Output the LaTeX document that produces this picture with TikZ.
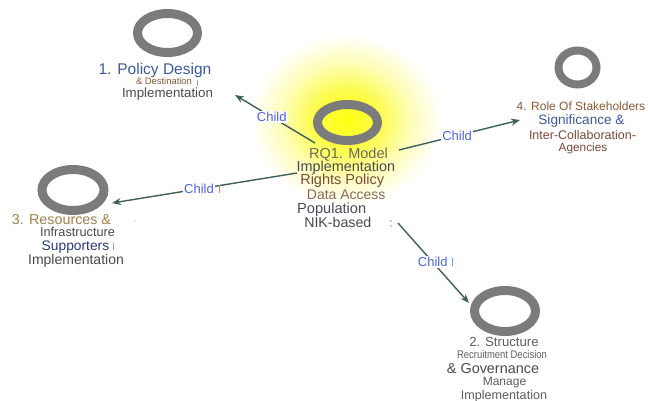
\documentclass[tikz,border=0pt]{standalone}
\usepackage{fontspec}
\setmainfont{Liberation Sans}
\usetikzlibrary{arrows.meta,shapes.geometric}

\definecolor{ringgray}{HTML}{7B7B7B}
\definecolor{linkcol}{HTML}{3F5F5C}
\definecolor{childblue}{HTML}{4F63E0}
\definecolor{markblue}{HTML}{7F9FE0}
\definecolor{glowcore}{HTML}{FFFF10}
\definecolor{glowmid}{HTML}{FCFC50}
\definecolor{glowpale}{HTML}{FEFDB8}
\definecolor{tblue}{HTML}{3A5A9C}
\definecolor{tbrown}{HTML}{8A5A3A}
\definecolor{ttan}{HTML}{A08050}
\definecolor{tdark}{HTML}{4A4A4A}
\definecolor{tgray}{HTML}{5E5E5E}
\definecolor{tolive}{HTML}{6D6A50}
\definecolor{trust}{HTML}{7A4A3A}
\definecolor{tmauve}{HTML}{8A6A5A}
\definecolor{tslate}{HTML}{4A4A5A}
\definecolor{tnavy}{HTML}{2A3A7A}

\newcommand\tsz[1]{\fontsize{#1pt}{#1pt}\selectfont}

% TikZ maps the path's edge to 25bp of a radial shading
\pgfdeclareradialshading{sunglow}{\pgfpoint{0bp}{0bp}}{%
  color(0bp)=(glowcore); color(9bp)=(glowmid); color(17bp)=(glowpale);
  color(25bp)=(white); color(50bp)=(white)}

\begin{document}
\begin{tikzpicture}[x=1pt,y=-1pt,
  ring/.style={ellipse, draw=ringgray, line width=9pt, inner sep=0pt},
  lbl/.style={anchor=base, inner sep=0pt},
  link/.style={draw=linkcol, line width=1.4pt, -{Stealth[length=9pt,width=7pt]}},
  childlbl/.style={fill=white, text=childblue, font=\tsz{13}, inner sep=1.5pt},
  cursormark/.style={draw=markblue, line width=0.8pt}]

% canvas
\fill[white] (0,0) rectangle (648,401);
\useasboundingbox (0,0) rectangle (648,401);

% glow around the central topic
\shade[shading=sunglow] (346,120) ellipse [x radius=95pt, y radius=85pt];

% rings
\node[ring, minimum width=60pt, minimum height=39pt] (r1) at (167.5,33) {};
\node[ring, minimum width=60pt, minimum height=36pt] (r0) at (347.5,122.5) {};
\node[ring, minimum width=38pt, minimum height=34pt, line width=8pt] (r4) at (577.5,67.5) {};
\node[ring, minimum width=62pt, minimum height=41pt] (r3) at (73,190) {};
\node[ring, minimum width=61pt, minimum height=41pt] (r2) at (505,311) {};

% central topic text
\node[lbl, text=tolive, font=\tsz{14.5}] (c1) at (348.5,158) {RQ1. Model};
\node[lbl, text=tdark,  font=\tsz{14.4}] (c2) at (345.8,171.5) {Implementation};
\node[lbl, text=trust,  font=\tsz{14.5}] (c3) at (342.2,185) {Rights Policy};
\node[lbl, text=tmauve, font=\tsz{14}]   (c4) at (346.2,199) {Data Access};
\node[lbl, text=tslate, font=\tsz{14.6}] (c5) at (331.7,213) {Population};
\node[lbl, text=tdark,  font=\tsz{14.2}] (c6) at (337.8,227) {NIK-based};

% 1. policy design
\node[lbl, text=tblue,  font=\tsz{15.5}] (p1) at (155,74.5) {1. Policy Design};
\node[lbl, text=tbrown, font=\tsz{9.4}]  (p2) at (164,85) {\& Destination};
\node[lbl, text=tdark,  font=\tsz{13.3}] (p3) at (167.5,97.8) {Implementation};

% 4. role of stakeholders
\node[lbl, text=tbrown, font=\tsz{12}]   (s1) at (581,111) {4. Role Of Stakeholders};
\node[lbl, text=tblue,  font=\tsz{13.6}] (s2) at (581.5,124.6) {Significance \&};
\node[lbl, text=trust,  font=\tsz{12.5}] (s3) at (582.5,139.5) {Inter-Collaboration-};
\node[lbl, text=trust,  font=\tsz{11.8}] (s4) at (583,151.5) {Agencies};

% 3. resources
\node[lbl, text=ttan,  font=\tsz{14.3}] (q1) at (61.5,224) {3. Resources \&};
\node[lbl, text=tdark, font=\tsz{12.7}] (q2) at (77.5,236) {Infrastructure};
\node[lbl, text=tnavy, font=\tsz{13.8}] (q3) at (75.5,250) {Supporters};
\node[lbl, text=tdark, font=\tsz{14}]   (q4) at (76,264) {Implementation};

% 2. structure
\node[lbl, text=tgray, font=\tsz{13.2}] (u1) at (504,346.7) {2. Structure};
\node[lbl, text=tgray, font=\tsz{11}]   (u2) at (502,358) {\scalebox{0.86}[1]{Recruitment Decision}};
\node[lbl, text=tdark, font=\tsz{14.4}] (u3) at (493,373) {\& Governance};
\node[lbl, text=tgray, font=\tsz{12}]   (u4) at (504.5,385) {Manage};
\node[lbl, text=tgray, font=\tsz{12.6}] (u5) at (504,399) {Implementation};

% connector ends
\coordinate (a1s) at (315,143);  \coordinate (a1e) at (235,95);
\coordinate (a4s) at (399,150);  \coordinate (a4e) at (520,120);
\coordinate (a3s) at (297,173);  \coordinate (a3e) at (112,203);
\coordinate (a2s) at (398,223);  \coordinate (a2e) at (469,303);

% connectors
\draw[link] (a1s) -- node[childlbl, pos=0.54] (k1) {Child} (a1e);
\draw[link] (a4s) -- node[childlbl, pos=0.48] (k4) {Child} (a4e);
\draw[link] (a3s) -- node[childlbl, pos=0.53] (k3) {Child} (a3e);
\draw[link] (a2s) -- node[childlbl, pos=0.49] (k2) {Child} (a2e);

% small cursor marks
\draw[cursormark] (197,80) -- (197,86);
\draw[cursormark] (113,243) -- (113,250);
\draw[cursormark] (219,185) -- (219,193);
\draw[cursormark] (452,258) -- (452,266);
\fill[markblue] (391,221) circle (0.8pt) (391,226) circle (0.8pt) (135,221) circle (0.7pt);
\end{tikzpicture}
\end{document}
